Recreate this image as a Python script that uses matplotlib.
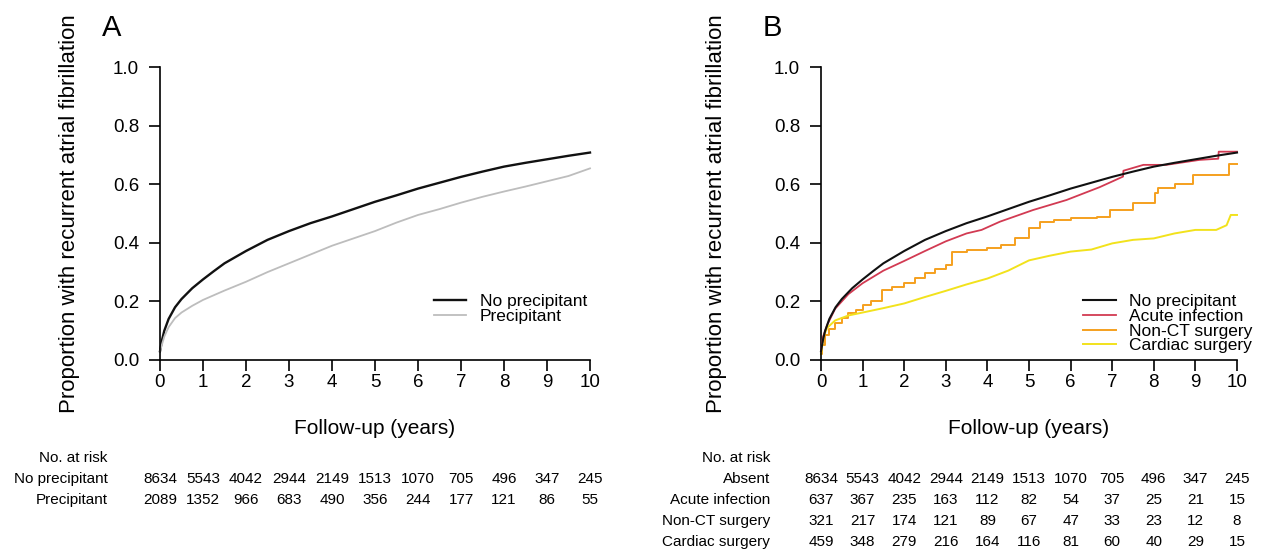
import numpy as np
import matplotlib
matplotlib.use("Agg")
import matplotlib.pyplot as plt
import matplotlib.transforms as mtransforms

plt.rcParams['font.family'] = ['Liberation Sans', 'DejaVu Sans']

# ---------------- data ----------------
# panel A, cumulative proportion with recurrent AF
t_a = [0, 0.05, 0.1, 0.2, 0.35, 0.5, 0.75, 1, 1.25, 1.5, 2, 2.5, 3, 3.5, 4,
       4.5, 5, 5.5, 6, 6.5, 7, 7.5, 8, 8.5, 9, 9.5, 10]
no_precip = [0.03, 0.07, 0.10, 0.14, 0.18, 0.208, 0.245, 0.275, 0.303, 0.33,
             0.372, 0.41, 0.44, 0.467, 0.49, 0.515, 0.54, 0.562, 0.585, 0.605,
             0.625, 0.643, 0.66, 0.673, 0.685, 0.697, 0.708]
precip = [0.03, 0.055, 0.08, 0.112, 0.143, 0.162, 0.185, 0.205, 0.221, 0.237,
          0.267, 0.30, 0.33, 0.36, 0.39, 0.415, 0.44, 0.469, 0.495, 0.515,
          0.537, 0.557, 0.575, 0.592, 0.61, 0.628, 0.654]

# panel B, by type of precipitant
t_inf = [0, 0.05, 0.15, 0.34, 0.66, 1, 1.5, 2, 2.5, 3, 3.5, 3.86, 4.3, 5.1,
         5.9, 6.7, 7.26, 7.27, 7.75, 8.3, 9.1, 9.55, 9.56, 10]
acute_inf = [0.03, 0.08, 0.12, 0.175, 0.225, 0.262, 0.305, 0.338, 0.372,
             0.405, 0.432, 0.444, 0.472, 0.512, 0.546, 0.59, 0.626, 0.646,
             0.666, 0.666, 0.683, 0.687, 0.711, 0.711]

t_nct = [0, 0.03, 0.1, 0.2, 0.34, 0.5, 0.66, 0.85, 1, 1.2, 1.46, 1.7, 2,
         2.25, 2.5, 2.75, 3, 3.14, 3.5, 4, 4.33, 4.66, 5, 5.26, 5.6, 6.0,
         6.63, 6.95, 7.5, 8.03, 8.1, 8.5, 8.95, 9.3, 9.8, 10]
non_ct = [0.02, 0.05, 0.085, 0.105, 0.125, 0.142, 0.159, 0.172, 0.188, 0.20,
          0.24, 0.25, 0.262, 0.28, 0.296, 0.31, 0.324, 0.37, 0.375, 0.381,
          0.392, 0.415, 0.45, 0.472, 0.478, 0.483, 0.489, 0.511, 0.535,
          0.569, 0.586, 0.60, 0.631, 0.631, 0.669, 0.669]

t_card = [0, 0.03, 0.06, 0.15, 0.34, 0.66, 1, 1.5, 2, 2.5, 3, 3.5, 4, 4.5,
          5, 5.5, 6, 6.5, 7, 7.5, 8, 8.5, 9, 9.5, 9.75, 9.85, 10]
cardiac = [0.02, 0.05, 0.08, 0.11, 0.135, 0.152, 0.162, 0.177, 0.193, 0.215,
           0.236, 0.258, 0.278, 0.305, 0.34, 0.356, 0.37, 0.377, 0.398, 0.41,
           0.415, 0.432, 0.444, 0.444, 0.46, 0.495, 0.495]

# numbers at risk
risk_years = list(range(11))
risk_a_labels = ['No precipitant', 'Precipitant']
risk_a = [[8634, 5543, 4042, 2944, 2149, 1513, 1070, 705, 496, 347, 245],
          [2089, 1352, 966, 683, 490, 356, 244, 177, 121, 86, 55]]
risk_b_labels = ['Absent', 'Acute infection', 'Non-CT surgery', 'Cardiac surgery']
risk_b = [[8634, 5543, 4042, 2944, 2149, 1513, 1070, 705, 496, 347, 245],
          [637, 367, 235, 163, 112, 82, 54, 37, 25, 21, 15],
          [321, 217, 174, 121, 89, 67, 47, 33, 23, 12, 8],
          [459, 348, 279, 216, 164, 116, 81, 60, 40, 29, 15]]

# ---------------- figure ----------------
W, H = 1269, 552
fig = plt.figure(figsize=(W / 100, H / 100), dpi=100)

def px_axes(x0, x1, y_top, y_bot):
    return fig.add_axes([x0 / W, 1 - y_bot / H, (x1 - x0) / W, (y_bot - y_top) / H])

ax_a = px_axes(160, 590, 67, 360)
ax_b = px_axes(821, 1237, 67, 360)

for ax in (ax_a, ax_b):
    ax.set_xlim(0, 10)
    ax.set_ylim(0, 1)
    for s in ('top', 'right'):
        ax.spines[s].set_visible(False)
    for s in ('left', 'bottom'):
        ax.spines[s].set_linewidth(1.2)
    ax.set_xticks(range(11))
    ax.set_yticks([0, 0.2, 0.4, 0.6, 0.8, 1.0])
    ax.set_yticklabels(['0.0', '0.2', '0.4', '0.6', '0.8', '1.0'])
    ax.tick_params(axis='both', direction='out', length=8, width=1.2,
                   labelsize=13.5)
    ax.tick_params(axis='x', pad=2)
    ax.tick_params(axis='y', pad=7)
    ax.set_xlabel('Follow-up (years)', fontsize=15, va='top')
    ax.xaxis.set_label_coords(0.5, -0.20)
    ax.set_ylabel('Proportion with recurrent atrial fibrillation', fontsize=16)

ax_a.yaxis.set_label_coords(-0.186, 0.5)
ax_b.yaxis.set_label_coords(-0.226, 0.5)

# panel A curves
ax_a.plot(t_a, no_precip, color='#111111', lw=1.7, label='No precipitant',
          clip_on=False)
ax_a.plot(t_a, precip, color='#bdbdbd', lw=1.3, label='Precipitant',
          clip_on=False)

# panel B curves
ax_b.plot(t_a, no_precip, color='#111111', lw=1.5, label='No precipitant',
          clip_on=False, zorder=4)
ax_b.plot(t_inf, acute_inf, color='#d23a52', lw=1.3, label='Acute infection',
          clip_on=False, zorder=3)
ax_b.plot(t_nct, non_ct, color='#f5a01e', lw=1.4, label='Non-CT surgery',
          drawstyle='steps-post', clip_on=False)
ax_b.plot(t_card, cardiac, color='#f2e21c', lw=1.4, label='Cardiac surgery',
          clip_on=False)

leg_kw = dict(frameon=False, fontsize=12.5, handlelength=1.85,
              handletextpad=0.8, borderpad=0, borderaxespad=0,
              labelspacing=-0.02, loc='center right')
ax_a.legend(bbox_to_anchor=(0.993, 0.173), **leg_kw)
ax_b.legend(bbox_to_anchor=(1.038, 0.124), **leg_kw)

# panel letters
fig.text(102 / W, 1 - 36 / H, 'A', fontsize=21, va='baseline', ha='left')
fig.text(763 / W, 1 - 36 / H, 'B', fontsize=21, va='baseline', ha='left')

# number-at-risk tables, x follows the axes data scale
row_y = [458, 479, 500, 521, 542]

def risk_table(ax, labels, rows):
    tr = mtransforms.blended_transform_factory(ax.transData, fig.transFigure)
    ax.text(-1.22, 1 - row_y[0] / H, 'No. at risk', transform=tr,
            ha='right', va='center', fontsize=11, clip_on=False)
    for i, (lab, vals) in enumerate(zip(labels, rows)):
        y = 1 - row_y[i + 1] / H
        ax.text(-1.22, y, lab, transform=tr, ha='right', va='center',
                fontsize=11, clip_on=False)
        for yr, v in zip(risk_years, vals):
            ax.text(yr, y, str(v), transform=tr, ha='center', va='center',
                    fontsize=11, clip_on=False)

risk_table(ax_a, risk_a_labels, risk_a)
risk_table(ax_b, risk_b_labels, risk_b)

fig.savefig('out.png', dpi=100, facecolor='white')
